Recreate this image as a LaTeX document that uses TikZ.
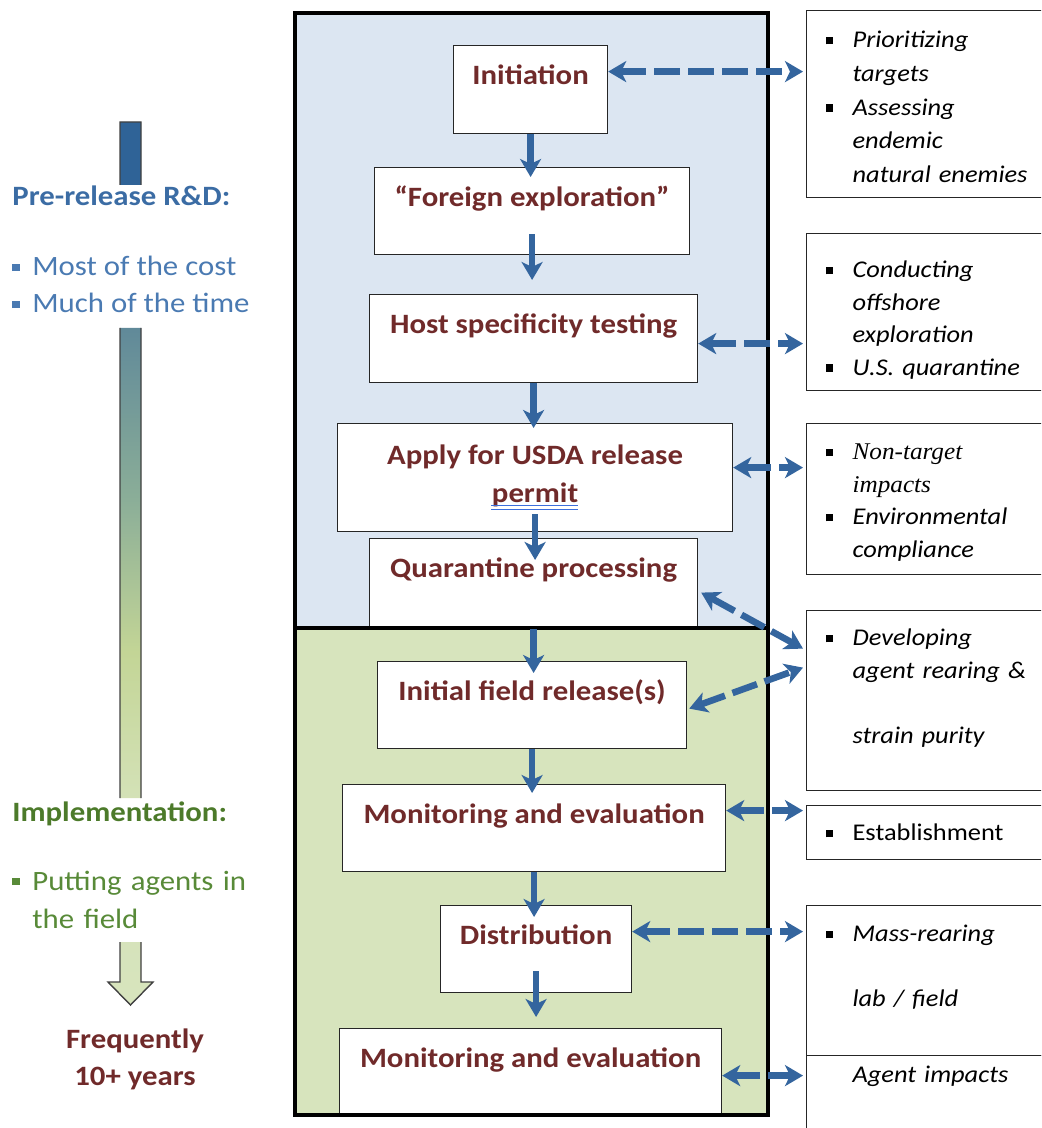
\documentclass[tikz,border=0pt]{standalone}
\usepackage{fontspec}
\setmainfont{Carlito}[FakeStretch=1.1]
\newfontfamily\serifit{Liberation Serif}[FakeStretch=1.05]
\usetikzlibrary{arrows.meta,calc}

\definecolor{stagered}{RGB}{112,42,42}
\definecolor{arrowblue}{RGB}{52,101,158}
\definecolor{prebg}{RGB}{220,230,242}
\definecolor{impbg}{RGB}{215,228,189}
\definecolor{preblue}{RGB}{59,108,164}
\definecolor{itemblue}{RGB}{74,122,178}
\definecolor{impgreen}{RGB}{76,122,42}
\definecolor{itemgreen}{RGB}{88,138,56}
\definecolor{barblue}{RGB}{47,99,151}
\definecolor{barteal}{RGB}{97,138,153}
\definecolor{barsage}{RGB}{139,174,152}
\definecolor{bargreen}{RGB}{195,213,150}
\definecolor{barlight}{RGB}{215,228,189}
\definecolor{spellblue}{RGB}{60,110,220}

\pgfdeclareverticalshading{barfade}{100bp}{color(0bp)=(barlight); color(25bp)=(barlight); color(36.6bp)=(barlight!85!bargreen); color(45bp)=(bargreen); color(53.6bp)=(barsage); color(63.2bp)=(barteal); color(70bp)=(barblue); color(100bp)=(barblue)}

\newcommand\sqbul{\makebox[13.5pt][l]{\raisebox{1.6pt}{\rule{3.8pt}{3.8pt}}}}
\newcommand\indnt{\hspace*{13.5pt}}
\newcommand\leftbul[1]{\makebox[10pt][l]{\color{#1}\raisebox{2.4pt}{\rule{3.8pt}{3.8pt}}}}

\begin{document}
\begin{tikzpicture}[x=0.5pt,y=-0.5pt,
  >={Stealth[length=9pt,width=10.5pt,inset=2.5pt]},
  stage/.style={draw=black!85,fill=white,line width=0.6pt,anchor=north west,
    inner xsep=0pt,inner ysep=0pt,text height=19.5pt,text=stagered,
    font=\bfseries\fontsize{14}{19}\selectfont},
  note/.style={draw=black!85,fill=white,line width=0.6pt,anchor=north west,
    inner xsep=9.5pt,inner ysep=0pt,text width=130pt,align=left,
    font=\itshape\fontsize{12}{16.25}\selectfont},
  frame/.style={draw=black,line width=1.8pt},
  flow/.style={->,draw=arrowblue,line width=3.3pt},
  link/.style={<->,draw=arrowblue,line width=3.3pt,dash pattern=on 13pt off 4pt},
  side/.style={anchor=base west,inner sep=0pt}]
  \useasboundingbox (0,0) rectangle (1041,1128);
  \clip (0,0) rectangle (1041,1128);

  \fill[prebg] (295,13) rectangle (768,628);
  \fill[impbg] (295,628) rectangle (768,1115);

  \node[stage,minimum width=77pt,text depth=24.5pt] (init) at (453,45) {Initiation};
  \node[stage,minimum width=157.5pt,text depth=24pt] (fore) at (374,167) {``Foreign exploration''};
  \node[stage,minimum width=164pt,text depth=24.5pt] (host) at (369,294) {Host specificity testing};
  \node[stage,minimum width=197.5pt,minimum height=54pt,text height=,text depth=,align=center] (apply) at (337,423)
    {Apply for USDA release\\\underline{permit}};
  \node[stage,minimum width=164pt,text depth=25.5pt] (quar) at (369,538) {Quarantine processing};
  \node[stage,minimum width=154.5pt,text depth=24pt] (initf) at (377,661) {Initial field release(s)};
  \node[stage,minimum width=191.5pt,text depth=24pt] (mon1) at (342,784) {Monitoring and evaluation};
  \node[stage,minimum width=95.5pt,text depth=24pt] (dist) at (440,905) {Distribution};
  \node[stage,minimum width=191pt,text depth=24pt] (mon2) at (339,1028) {Monitoring and evaluation};
  \draw[spellblue,line width=0.5pt] (491,505.5) -- (578,505.5) (491,509) -- (578,509);

  \draw[frame] (295,13) rectangle (768,628);
  \draw[frame] (295,628) rectangle (768,1115);

  \node[note,text height=18.5pt,text depth=75pt,font=\itshape\fontsize{12}{16.9}\selectfont] (side1) at (806,10)
    {\sqbul Prioritizing\\\indnt targets\\\sqbul Assessing\\\indnt endemic\\\indnt natural enemies};
  \node[note,text height=22pt,text depth=56.5pt] (side2) at (806,233)
    {\sqbul Conducting\\\indnt offshore\\\indnt exploration\\\sqbul U.S. quarantine};
  \node[note,text height=18pt,text depth=57.5pt] (side3) at (806,423)
    {\sqbul{\serifit Non-target}\\\indnt{\serifit impacts}\\\sqbul Environmental\\\indnt compliance};
  \node[note,text height=17.5pt,text depth=72.5pt] (side4) at (806,610)
    {\sqbul Developing\\\indnt agent rearing \&\\[16.25pt]\indnt strain purity};
  \node[note,text height=17.5pt,text depth=9.5pt,font=\fontsize{12}{16.25}\selectfont] (side5) at (806,805)
    {\sqbul Establishment};
  \node[note,text height=18pt,text depth=57pt] (side6) at (806,905)
    {\sqbul Mass-rearing\\[16.25pt]\indnt lab / field};
  \node[note,text height=13.5pt,text depth=40pt] (side7) at (806,1055)
    {\indnt Agent impacts};

  \foreach \a/\b/\s/\e in {init/fore/0/-5,fore/host/-10.5/7,host/apply/0/-2.5,apply/quar/-9/-11,
    quar/initf/0/-6,initf/mon1/0/-4.5,mon1/dist/0/-6,dist/mon2/-11/5.5}
    \draw[flow,shorten <=\s pt,shorten >=\e pt] (\a.south) -- (\a.south |- \b.north);

  \foreach \a/\b/\dy in {init/side1/9,host/side2/-2.5,apply/side3/5,mon1/side5/8.75,dist/side6/8.75,mon2/side7/-1.75}
    \draw[link] ($(\a.east)+(0pt,\dy pt)$) -- ($(\a.east -| \b.west)+(-1.5pt,\dy pt)$);
  \draw[link] ($(quar.east)+(1.5pt,-4.5pt)$) -- ($(side4.west)+(-1.5pt,26pt)$);
  \draw[link] ($(initf.east)+(1pt,-1.75pt)$) -- ($(side4.west)+(-1.5pt,16.5pt)$);

  \begin{scope}
    \clip (95,115) rectangle (175,185) (95,328) rectangle (175,798) (95,942) rectangle (175,1012);
    \shadedraw[shading=barfade,draw=black!75,line width=0.7pt]
      (120,122) -- (141,122) -- (141,982) -- (153,982) -- (130.5,1005) -- (108,982) -- (120,982) -- cycle;
  \end{scope}

  \node[side,text=preblue,font=\bfseries\fontsize{14}{17}\selectfont] (prelabel) at (12,206) {Pre-release R\&D:};
  \node[side,text=itemblue,font=\fontsize{14}{19}\selectfont] (costitem) at (12,276) {\leftbul{itemblue}Most of the cost};
  \node[side,text=itemblue,font=\fontsize{14}{19}\selectfont] (timeitem) at (12,313) {\leftbul{itemblue}Much of the time};
  \node[side,text=impgreen,font=\bfseries\fontsize{14}{17}\selectfont] (implabel) at (12,821) {Implementation:};
  \node[side,text=itemgreen,font=\fontsize{14}{19}\selectfont,text width=130pt,align=left] (fielditem) at (12,890)
    {\leftbul{itemgreen}Putting agents in\\\hspace*{10pt}the field};
  \node[anchor=base,inner sep=0pt,text=stagered,font=\bfseries\fontsize{14}{18.5}\selectfont,align=center] (years) at (135,1085)
    {Frequently\\10+ years};
\end{tikzpicture}
\end{document}
